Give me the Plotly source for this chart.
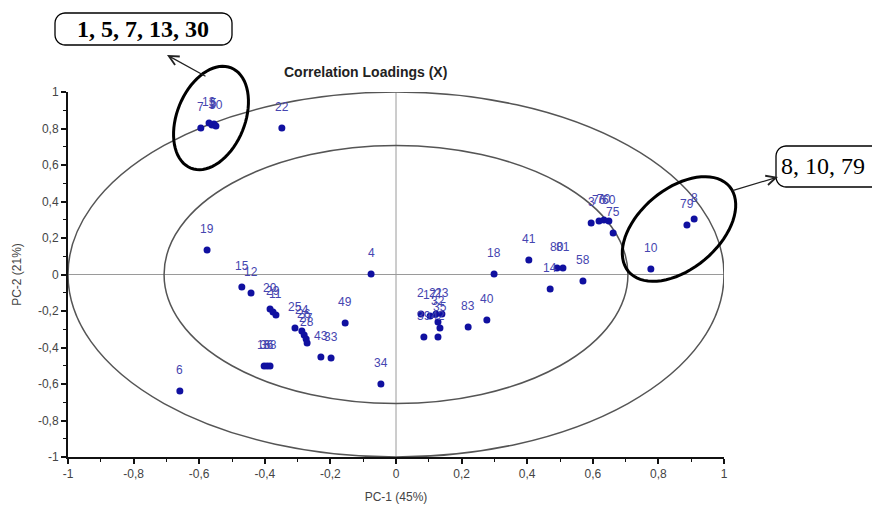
import math
import plotly.graph_objects as go

# ---------------- data ----------------
labels = ["7", "1", "5", "13", "30", "22", "19", "15", "12", "20", "29", "11",
          "25", "24", "26", "27", "28", "49", "43", "33", "16", "36", "38", "6",
          "4", "34", "2", "39", "17", "21", "23", "32", "35", "42", "83", "40",
          "18", "41", "80", "81", "14", "58", "3", "76", "70", "60", "75", "10",
          "79", "8"]
pc1 = [-0.595, -0.561, -0.555, -0.570, -0.549, -0.348, -0.576, -0.470, -0.442, -0.384,
       -0.375, -0.366, -0.308, -0.287, -0.280, -0.274, -0.271, -0.155, -0.229, -0.198,
       -0.402, -0.393, -0.384, -0.659, -0.076, -0.046, 0.076, 0.085, 0.104, 0.122,
       0.140, 0.128, 0.134, 0.128, 0.220, 0.277, 0.299, 0.405, 0.491, 0.509,
       0.470, 0.570, 0.595, 0.619, 0.634, 0.649, 0.662, 0.777, 0.887, 0.909]
pc2 = [0.803, 0.819, 0.825, 0.830, 0.814, 0.803, 0.134, -0.068, -0.101, -0.189,
       -0.205, -0.222, -0.293, -0.310, -0.332, -0.353, -0.375, -0.266, -0.452, -0.458,
       -0.501, -0.501, -0.501, -0.638, 0.003, -0.600, -0.216, -0.342, -0.227, -0.216,
       -0.216, -0.260, -0.293, -0.342, -0.288, -0.249, 0.003, 0.079, 0.036, 0.036,
       -0.079, -0.036, 0.282, 0.293, 0.299, 0.293, 0.227, 0.030, 0.271, 0.304]

tick_vals = [-1, -0.8, -0.6, -0.4, -0.2, 0, 0.2, 0.4, 0.6, 0.8, 1]
tick_text = ["-1", "-0,8", "-0,6", "-0,4", "-0,2", "0", "0,2", "0,4", "0,6", "0,8", "1"]
inner_radius = math.sqrt(0.5)
group1_text = "1, 5, 7, 13, 30"
group2_text = "8, 10, 79"

# ---------------- layout geometry ----------------
W, H = 872, 507
L, R, T, B = 68, 148, 92, 50
PW, PH = W - L - R, H - T - B


def paper(px, py):
    return (px - L) / PW, (H - B - py) / PH


def ellipse_path(cx, cy, a, b, ang_deg, n=72):
    ang = math.radians(ang_deg)
    pts = []
    for i in range(n + 1):
        t = 2 * math.pi * i / n
        dx = a * math.cos(t)
        dy = b * math.sin(t)
        x = cx + dx * math.cos(ang) - dy * math.sin(ang)
        y = cy - (dx * math.sin(ang) + dy * math.cos(ang))
        pts.append(paper(x, y))
    return "M" + " L".join(f"{u:.5f},{v:.5f}" for u, v in pts) + " Z"


def rounded_rect(x0, y0, x1, y1, r):
    segs = []
    steps = 6
    corners = [(x1 - r, y0 + r, -90), (x1 - r, y1 - r, 0), (x0 + r, y1 - r, 90), (x0 + r, y0 + r, 180)]
    for cx, cy, start in corners:
        for i in range(steps + 1):
            a = math.radians(start + 90 * i / steps)
            segs.append(paper(cx + r * math.cos(a), cy + r * math.sin(a)))
    return "M" + " L".join(f"{u:.5f},{v:.5f}" for u, v in segs) + " Z"


fig = go.Figure()

fig.add_trace(go.Scatter(
    x=pc1, y=pc2, mode="markers",
    marker=dict(size=7, color="#1010a0"),
    hoverinfo="text", text=labels, showlegend=False,
))

shapes = [
    dict(type="line", xref="x", yref="y", x0=0, x1=0, y0=-1, y1=1,
         line=dict(color="#9a9a9a", width=1), layer="below"),
    dict(type="line", xref="x", yref="y", x0=-1, x1=1, y0=0, y1=0,
         line=dict(color="#9a9a9a", width=1), layer="below"),
    dict(type="circle", xref="x", yref="y", x0=-1, x1=1, y0=-1, y1=1,
         line=dict(color="#555555", width=1.5), layer="below"),
    dict(type="circle", xref="x", yref="y", x0=-inner_radius, x1=inner_radius,
         y0=-inner_radius, y1=inner_radius,
         line=dict(color="#555555", width=1.5), layer="below"),
    # highlight ellipses
    dict(type="path", xref="paper", yref="paper", path=ellipse_path(211, 118, 34, 54, -22),
         line=dict(color="black", width=3)),
    dict(type="path", xref="paper", yref="paper", path=ellipse_path(679, 229, 66, 40, 40),
         line=dict(color="black", width=3)),
    # callout boxes
    dict(type="path", xref="paper", yref="paper", path=rounded_rect(55, 13, 232, 45, 10),
         line=dict(color="black", width=1.3)),
    dict(type="path", xref="paper", yref="paper", path=rounded_rect(776, 146, 885, 187, 10),
         line=dict(color="black", width=1.3)),
]

annotations = []
for lab, xv, yv in zip(labels, pc1, pc2):
    annotations.append(dict(
        x=xv, y=yv, xref="x", yref="y", text=lab, showarrow=False,
        xanchor="center", yanchor="middle",
        yshift=21, font=dict(family="Liberation Sans, Arial", size=12, color="#4545b0"),
    ))

tx, ty = paper(365, 72)
annotations.append(dict(x=tx, y=ty, xref="paper", yref="paper", text="<b>Correlation Loadings (X)</b>",
                        xanchor="center", yanchor="middle",
                        showarrow=False, font=dict(family="Liberation Sans, Arial", size=14, color="#222222")))

b1x, b1y = paper(143, 29)
annotations.append(dict(x=b1x, y=b1y, xref="paper", yref="paper", text=f"<b>{group1_text}</b>",
                        xanchor="center", yanchor="middle",
                        showarrow=False, font=dict(family="Liberation Serif, Times New Roman", size=24, color="black")))
b2x, b2y = paper(779, 166)
annotations.append(dict(x=b2x, y=b2y, xref="paper", yref="paper", text=group2_text,
                        xanchor="left", yanchor="middle",
                        showarrow=False, font=dict(family="Liberation Serif, Times New Roman", size=24, color="black")))

# arrows
h1x, h1y = paper(167, 55)
annotations.append(dict(x=h1x, y=h1y, xref="paper", yref="paper", ax=40, ay=22, text="",
                        showarrow=True, arrowhead=5, arrowsize=1.6, arrowwidth=1.2, arrowcolor="#222222"))
h2x, h2y = paper(778, 177)
annotations.append(dict(x=h2x, y=h2y, xref="paper", yref="paper", ax=-47, ay=14, text="",
                        showarrow=True, arrowhead=5, arrowsize=1.6, arrowwidth=1.2, arrowcolor="#222222"))

axis_common = dict(
    range=[-1, 1], showgrid=False, zeroline=False,
    showline=True, linecolor="#111111", linewidth=2,
    ticks="outside", ticklen=5, tickcolor="#111111", tickwidth=1.5,
    tickvals=tick_vals, ticktext=tick_text,
    tickfont=dict(family="Liberation Sans, Arial", size=12, color="#444444"),
    minor=dict(ticks="outside", ticklen=3, tickcolor="#111111", dtick=0.1, tickwidth=1),
    mirror=False, fixedrange=True,
)

fig.update_layout(
    width=W, height=H,
    margin=dict(l=L, r=R, t=T, b=B, autoexpand=False),
    paper_bgcolor="white", plot_bgcolor="white",
    xaxis=dict(axis_common, title=dict(text="PC-1 (45%)", standoff=12,
                                       font=dict(family="Liberation Sans, Arial", size=12, color="#444444"))),
    yaxis=dict(axis_common, title=dict(text="PC-2 (21%)", standoff=14,
                                       font=dict(family="Liberation Sans, Arial", size=12, color="#444444"))),
    shapes=shapes, annotations=annotations, showlegend=False,
)

fig.write_html("out.html")
